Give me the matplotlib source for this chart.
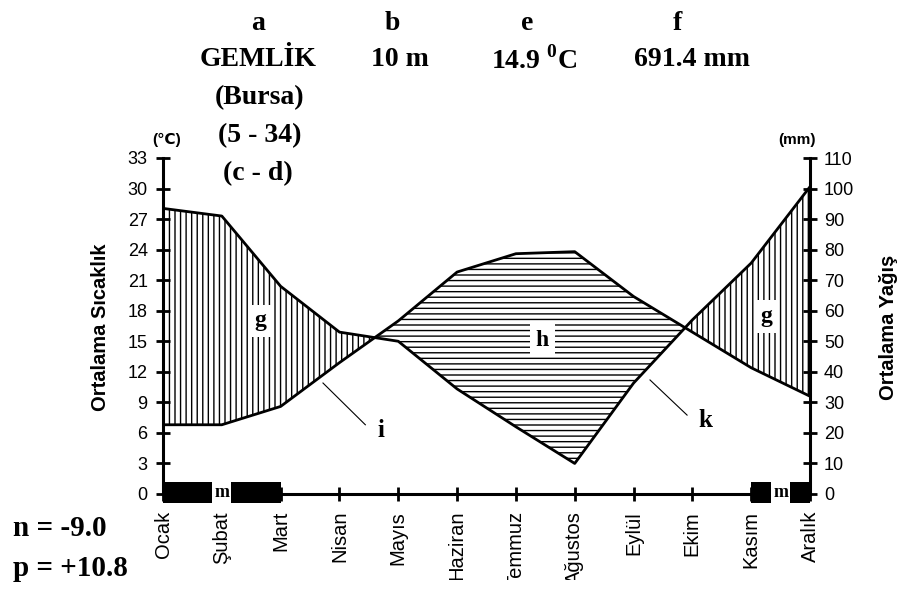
import matplotlib
matplotlib.use("Agg")
import matplotlib.pyplot as plt
import numpy as np
from matplotlib.patches import Rectangle
from matplotlib.transforms import Bbox, TransformedBbox, blended_transform_factory

# ---------------- data ----------------
months = ["Ocak", "Şubat", "Mart", "Nisan", "Mayıs", "Haziran",
          "Temmuz", "Ağustos", "Eylül", "Ekim", "Kasım", "Aralık"]
temperature = [6.8, 6.8, 8.6, 12.9, 17.0, 21.8, 23.6, 23.8, 19.4, 15.9, 12.4, 9.6]
precipitation = [93.5, 91.0, 68.0, 53.0, 50.0, 34.4, 22.0, 10.0, 36.3, 57.0, 75.6, 100.6]
temp_ticks = list(range(0, 34, 3))
prec_ticks = list(range(0, 111, 10))
frost_spans = [(0, 2), (10, 11)]
station = "GEMLİK"
province = "(Bursa)"
years = "(5 - 34)"
years_code = "(c - d)"
altitude = "10 m"
mean_temp = "14.9"
total_prec = "691.4 mm"
n_text = "n = -9.0"
p_text = "p = +10.8"

plt.rcParams["mathtext.fontset"] = "custom"
plt.rcParams["mathtext.bf"] = "Liberation Serif:bold"
plt.rcParams["mathtext.rm"] = "Liberation Serif"
plt.rcParams["hatch.linewidth"] = 1.0

W, H = 901, 597
fig = plt.figure(figsize=(W / 100, H / 100), dpi=100)
fig.patch.set_facecolor("white")

def fx(px):
    return px / W

def fy(py):
    return 1 - py / H

ax = fig.add_axes([fx(163), fy(494), fx(810) - fx(163), fy(158) - fy(494)])
ax.set_xlim(0, 11)
ax.set_ylim(0, 33)
ax2 = ax.twinx()
ax2.set_ylim(0, 110)

x = np.arange(len(months))
t = np.array(temperature)
p_on_t = np.array(precipitation) * (33 / 110)

# hatched areas
ax.fill_between(x, t, p_on_t, where=p_on_t >= t, interpolate=True,
                facecolor="none", edgecolor="black", hatch="|||", linewidth=0)
ax.fill_between(x, t, p_on_t, where=t >= p_on_t, interpolate=True,
                facecolor="none", edgecolor="black", hatch="---", linewidth=0)
ax.plot(x, t, color="black", lw=2.0, solid_joinstyle="round")
ax.plot(x, p_on_t, color="black", lw=2.0, solid_joinstyle="round")

# spines
for s in ["top", "right"]:
    ax.spines[s].set_visible(False)
for s in ["top", "left", "bottom"]:
    ax2.spines[s].set_visible(False)
ax.spines["left"].set_linewidth(2.2)
ax.spines["bottom"].set_linewidth(2.2)
ax2.spines["right"].set_linewidth(2.2)

tick_font = {"family": ["Liberation Sans", "DejaVu Sans"], "size": 13}
month_font = {"family": ["Liberation Sans", "DejaVu Sans"], "size": 14.5}
ax.set_yticks(temp_ticks)
ax.set_yticklabels([str(v) for v in temp_ticks], fontdict=tick_font)
ax.tick_params(axis="y", direction="inout", length=10, width=2, pad=6)
ax2.set_yticks(prec_ticks)
ax2.set_yticklabels([str(v) for v in prec_ticks], fontdict=tick_font)
ax2.tick_params(axis="y", direction="inout", length=10, width=2, pad=5)
ax.set_xticks(x)
ax.set_xticklabels([])
ax.tick_params(axis="x", direction="inout", length=10, width=2)

# month labels (long names are cut at the bottom, as in the original)
btr = blended_transform_factory(ax.transData, fig.transFigure)
clip = TransformedBbox(Bbox([[0, fy(580)], [1, 1]]), fig.transFigure)
for i, m in enumerate(months):
    txt = ax.text(i, fy(511), m, transform=btr, rotation=90, ha="center",
                  va="top", fontdict=month_font, clip_on=True)
    txt.set_clip_box(clip)

# frost bars
for a, b in frost_spans:
    ax.add_patch(Rectangle((a, -0.9), b - a, 2.1, facecolor="black",
                           edgecolor="black", lw=0, clip_on=False, zorder=5))
    ax.text((a + b) / 2 if b - a < 2 else a + 1, 0.1, "m", ha="center", va="center",
            fontsize=13, fontweight="bold", family="Liberation Serif", zorder=6,
            bbox=dict(boxstyle="square,pad=0.12", facecolor="white", edgecolor="none"))

# area labels
lab = dict(ha="center", va="center", fontsize=17, fontweight="bold",
           family="Liberation Serif", zorder=7,
           bbox=dict(boxstyle="square,pad=0.25", facecolor="white", edgecolor="none"))
ax.text(1.65, 17.0, "g", **lab)
ax.text(10.25, 17.4, "g", **lab)
ax.text(6.45, 15.1, "h", **lab)

# leaders
ax.plot([2.72, 3.44], [10.9, 6.8], color="black", lw=0.8)
ax.plot([8.28, 8.91], [11.2, 7.75], color="black", lw=0.8)
ax.text(3.7, 6.2, "i", ha="center", va="center", fontsize=18, fontweight="bold",
        family="Liberation Serif")
ax.text(9.22, 7.2, "k", ha="center", va="center", fontsize=18, fontweight="bold",
        family="Liberation Serif")

# axis titles
fig.text(fx(100), fy(327), "Ortalama Sıcaklık", rotation=90, ha="center", va="center",
         fontsize=14.5, fontweight="bold", family="Liberation Sans")
fig.text(fx(888), fy(327), "Ortalama Yağış", rotation=90, ha="center", va="center",
         fontsize=14.5, fontweight="bold", family="Liberation Sans")
fig.text(fx(167), fy(140), "(℃)", ha="center", va="center", fontsize=11,
         fontweight="bold", family=["Liberation Sans", "DejaVu Sans"])
fig.text(fx(797), fy(140), "(mm)", ha="center", va="center", fontsize=11,
         fontweight="bold", family="Liberation Sans")

# header
hd = dict(ha="center", va="center", fontsize=20, fontweight="bold",
          family="Liberation Serif")
fig.text(fx(258), fy(24), "a", **hd)
fig.text(fx(392), fy(24), "b", **hd)
fig.text(fx(527), fy(24), "e", **hd)
fig.text(fx(677), fy(24), "f", **hd)
fig.text(fx(258), fy(60), station, **hd)
fig.text(fx(400), fy(60), altitude, **hd)
fig.text(fx(534), fy(60), mean_temp + r" $^{\mathbf{0}}$C", **hd)
fig.text(fx(692), fy(60), total_prec, **hd)
fig.text(fx(260), fy(98), province, **hd)
fig.text(fx(260), fy(136), years, **hd)
fig.text(fx(258), fy(174), years_code, **hd)

fig.text(fx(13), fy(528), n_text, ha="left", va="center", fontsize=21,
         fontweight="bold", family="Liberation Serif")
fig.text(fx(13), fy(568), p_text, ha="left", va="center", fontsize=21,
         fontweight="bold", family="Liberation Serif")

fig.savefig("out.png", dpi=100, facecolor="white")
